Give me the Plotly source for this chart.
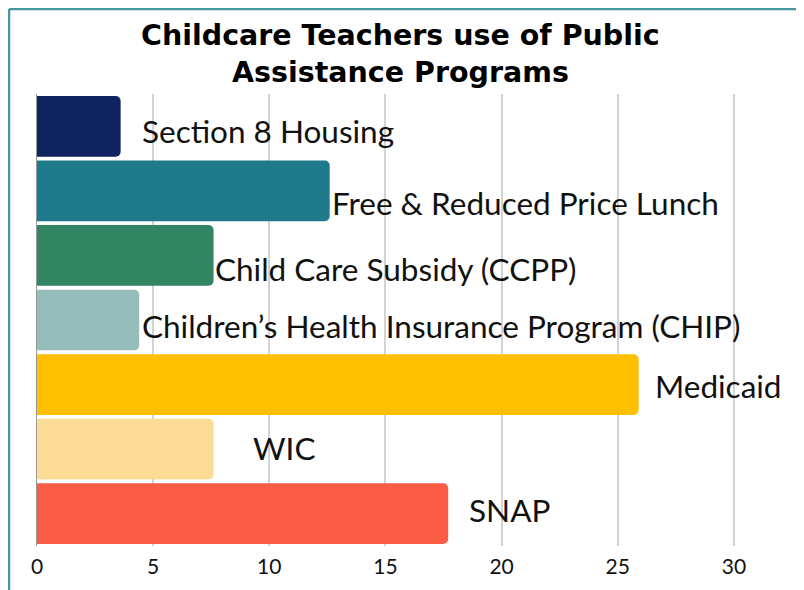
import plotly.graph_objects as go

programs = ["Section 8 Housing", "Free & Reduced Price Lunch", "Child Care Subsidy (CCPP)",
            "Children’s Health Insurance Program (CHIP)", "Medicaid", "WIC", "SNAP"]
values = [3.6, 12.6, 7.6, 4.4, 25.9, 7.6, 17.7]
colors = ["#0f245e", "#1f7a8c", "#328563", "#96bdb9", "#ffc000", "#fbdc97", "#fb5c45"]
x_ticks = [0, 5, 10, 15, 20, 25, 30]
title_lines = ["Childcare Teachers use of Public", "Assistance Programs"]

# label placement (pixels) relative to bar end / bar centre
label_dx = [19, 0, -1, 1, 14, 37, 19]
label_dy = [-5, -12, -14, -6, -1, 1, 4]

W, H = 796, 582
ML, MR, MT, MB = 29, 14, 86, 44
pw, ph = W - ML - MR, H - MT - MB
PX_PER_UNIT = 23.23


def px_x(px):
    return (px - ML) / pw


def px_y(py):
    return (H - MB - py) / ph


fig = go.Figure()
fig.add_trace(go.Bar(
    y=programs, x=values, orientation="h",
    marker=dict(color=colors, line=dict(width=0)),
    hoverinfo="x+y",
))

for p, v, dx, dy in zip(programs, values, label_dx, label_dy):
    fig.add_annotation(x=v, y=p, xref="x", yref="y", text=p, showarrow=False,
                       xanchor="left", yanchor="middle", xshift=dx, yshift=dy,
                       font=dict(family="Lato", size=31.5, color="#111111"))

# title, two lines
for line, ty in zip(title_lines, [27, 64]):
    fig.add_annotation(x=px_x(392), y=px_y(ty), xref="paper", yref="paper",
                       text="<b>" + line + "</b>", showarrow=False,
                       xanchor="center", yanchor="middle",
                       font=dict(family="DejaVu Sans", size=28.5, color="#000000"))

# teal frame (left and top edges)
frame = "#4696a2"
fig.add_shape(type="line", xref="paper", yref="paper", x0=px_x(1), x1=px_x(1),
              y0=px_y(1), y1=px_y(600), line=dict(color=frame, width=2.5), layer="above")
fig.add_shape(type="line", xref="paper", yref="paper", x0=px_x(1), x1=px_x(820),
              y0=px_y(1), y1=px_y(1), line=dict(color=frame, width=2.5), layer="above")

fig.update_layout(
    width=W, height=H,
    margin=dict(l=ML, r=MR, t=MT, b=MB),
    paper_bgcolor="white", plot_bgcolor="white",
    bargap=0.06,
    barcornerradius=5,
    showlegend=False,
    xaxis=dict(range=[0, pw / PX_PER_UNIT], tickvals=x_ticks,
               showgrid=True, gridcolor="#d3d3d3", gridwidth=1.5,
               zeroline=False, showline=False, ticks="", ticklabelstandoff=6,
               tickfont=dict(family="Lato", size=21, color="#111111")),
    yaxis=dict(categoryorder="array", categoryarray=programs, autorange="reversed",
               showticklabels=False, showgrid=False, zeroline=False,
               showline=True, linecolor="#9a9a9a", linewidth=1, ticks=""),
)

fig.write_html("out.html")
